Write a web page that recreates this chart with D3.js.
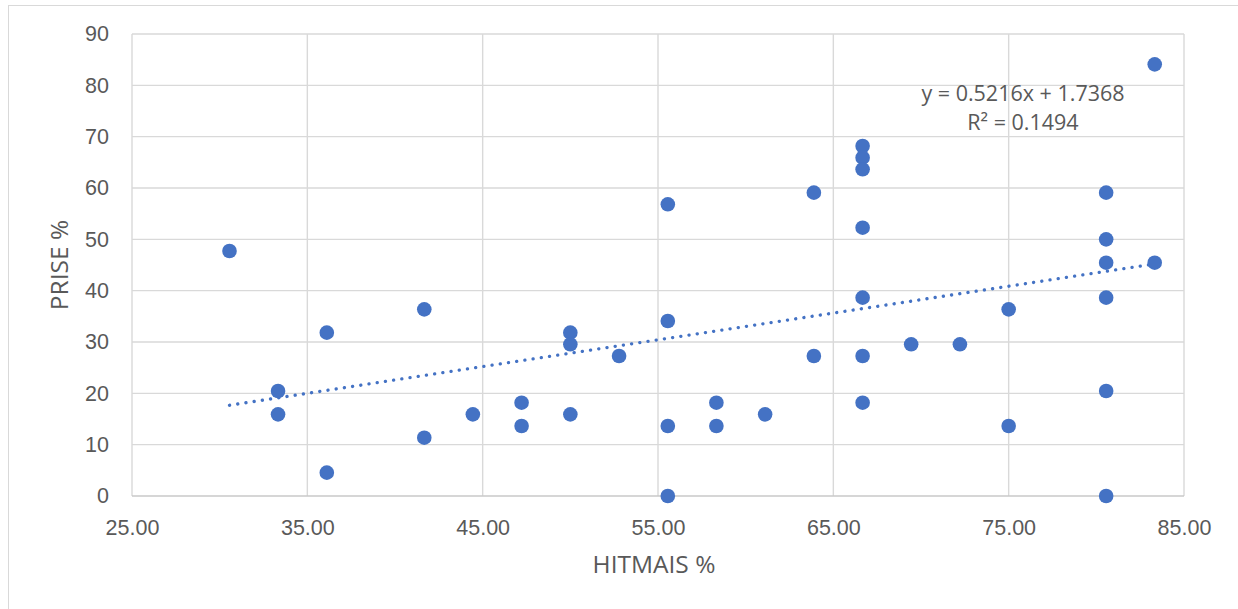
<!DOCTYPE html>
<html>
<head>
<meta charset="utf-8">
<script src="https://cdn.jsdelivr.net/npm/d3@7/dist/d3.min.js"></script>
<style>
  html, body { margin: 0; padding: 0; background: #fff; }
  svg { display: block; font-family: "Open Sans", "Noto Sans", sans-serif; }
</style>
</head>
<body>
<svg id="chart" width="1238" height="609"></svg>
<script>
// HITMAIS % (x) and PRISE % (y) for each point
const hitmais = [30.56, 33.33, 33.33, 36.11, 36.11, 41.67, 41.67, 44.44, 47.22, 47.22,
  50.00, 50.00, 50.00, 52.78, 55.56, 55.56, 55.56, 55.56, 58.33, 58.33,
  61.11, 63.89, 63.89, 66.67, 66.67, 66.67, 66.67, 66.67, 66.67, 66.67,
  69.44, 72.22, 75.00, 75.00, 80.56, 80.56, 80.56, 80.56, 80.56, 80.56,
  83.33, 83.33];
const prise = [47.73, 20.45, 15.91, 31.82, 4.55, 36.36, 11.36, 15.91, 18.18, 13.64,
  31.82, 29.55, 15.91, 27.27, 56.82, 34.09, 13.64, 0.00, 18.18, 13.64,
  15.91, 59.09, 27.27, 68.18, 65.91, 63.64, 52.27, 38.64, 27.27, 18.18,
  29.55, 29.55, 36.36, 13.64, 59.09, 50.00, 45.45, 38.64, 20.45, 0.00,
  84.09, 45.45];

const xTicks = [25, 35, 45, 55, 65, 75, 85];
const yTicks = [0, 10, 20, 30, 40, 50, 60, 70, 80, 90];

// linear trendline as printed on the chart
const trendSlope = 0.5216;
const trendIntercept = 1.7368;
const trendLabel = ["y = 0.5216x + 1.7368", "R² = 0.1494"];

const svg = d3.select("#chart");

// chart frame
svg.append("rect")
  .attr("x", 8.5).attr("y", 5.5)
  .attr("width", 1300).attr("height", 700)
  .attr("fill", "#fff")
  .attr("stroke", "#d9d9d9");

const x = d3.scaleLinear().domain([25, 85]).range([132, 1184]);
const y = d3.scaleLinear().domain([0, 90]).range([496, 34]);

// gridlines
svg.append("g")
  .selectAll("line.v")
  .data(xTicks)
  .join("line")
  .attr("x1", d => x(d)).attr("x2", d => x(d))
  .attr("y1", y(0)).attr("y2", y(90))
  .attr("stroke", "#d9d9d9").attr("stroke-width", 1.4);

svg.append("g")
  .selectAll("line.h")
  .data(yTicks)
  .join("line")
  .attr("x1", x(25)).attr("x2", x(85))
  .attr("y1", d => y(d)).attr("y2", d => y(d))
  .attr("stroke", d => d === 0 ? "#c8c8c8" : "#d9d9d9")
  .attr("stroke-width", d => d === 0 ? 1.7 : 1.4);

// axes (labels only)
const xAxis = svg.append("g")
  .attr("transform", `translate(0,${y(0)})`)
  .call(d3.axisBottom(x).tickValues(xTicks).tickFormat(d3.format(".2f")).tickSize(0).tickPadding(24));
xAxis.select(".domain").remove();
xAxis.selectAll("text")
  .attr("fill", "#595959")
  .style("font-size", "21.5px");

const yAxis = svg.append("g")
  .attr("transform", `translate(${x(25)},0)`)
  .call(d3.axisLeft(y).tickValues(yTicks).tickSize(0).tickPadding(23));
yAxis.select(".domain").remove();
yAxis.selectAll("text")
  .attr("fill", "#595959")
  .style("font-size", "21.5px");

// trendline
const xMin = d3.min(hitmais), xMax = d3.max(hitmais);
svg.append("line")
  .attr("x1", x(xMin)).attr("y1", y(trendSlope * xMin + trendIntercept))
  .attr("x2", x(xMax)).attr("y2", y(trendSlope * xMax + trendIntercept))
  .attr("stroke", "#4472c4")
  .attr("stroke-width", 3.3)
  .attr("stroke-linecap", "round")
  .attr("stroke-dasharray", "0.1 8.2");

// points
svg.append("g")
  .selectAll("circle")
  .data(hitmais.map((d, i) => [d, prise[i]]))
  .join("circle")
  .attr("cx", d => x(d[0]))
  .attr("cy", d => y(d[1]))
  .attr("r", 7.3)
  .attr("fill", "#4472c4");

// trendline label
svg.append("g")
  .selectAll("text")
  .data(trendLabel)
  .join("text")
  .attr("x", 1023)
  .attr("y", (d, i) => 101 + i * 29)
  .attr("text-anchor", "middle")
  .attr("fill", "#595959")
  .style("font-size", "21.5px")
  .text(d => d);

// axis titles
svg.append("text")
  .attr("x", (x(25) + x(85)) / 2 - 4)
  .attr("y", 573)
  .attr("text-anchor", "middle")
  .attr("fill", "#595959")
  .style("font-size", "24.5px")
  .text("HITMAIS %");

svg.append("text")
  .attr("transform", `translate(68,${(y(0) + y(90)) / 2}) rotate(-90)`)
  .attr("text-anchor", "middle")
  .attr("fill", "#595959")
  .style("font-size", "24.5px")
  .text("PRISE %");
</script>
</body>
</html>
